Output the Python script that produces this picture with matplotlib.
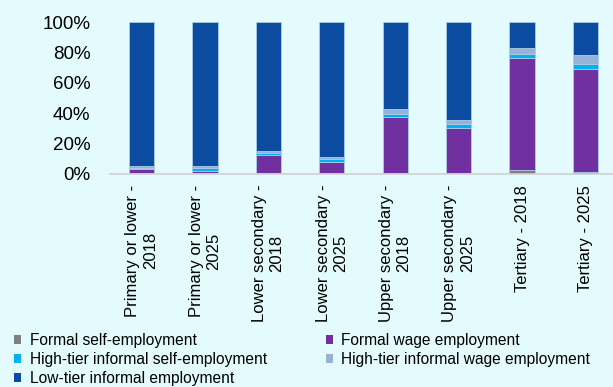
import numpy as np
import matplotlib.pyplot as plt
from matplotlib.patches import Patch
from matplotlib.ticker import PercentFormatter

plt.rcParams['font.family'] = ['Liberation Sans', 'DejaVu Sans']

categories = ['Primary or lower -\n2018', 'Primary or lower -\n2025',
              'Lower secondary -\n2018', 'Lower secondary -\n2025',
              'Upper secondary -\n2018', 'Upper secondary -\n2025',
              'Tertiary - 2018', 'Tertiary - 2025']

# shares of employment, percent
formal_self = [0.3, 0.3, 0.3, 0.3, 0.6, 0.5, 2.4, 1.1]
formal_wage = [3.0, 1.8, 12.0, 7.4, 36.7, 29.8, 74.0, 67.9]
high_self = [0.6, 1.5, 1.3, 2.2, 2.0, 2.4, 2.6, 3.5]
high_wage = [0.9, 1.2, 1.3, 1.3, 3.1, 2.6, 4.2, 5.7]
low_tier = [100 - a - b - c - d for a, b, c, d in
            zip(formal_self, formal_wage, high_self, high_wage)]

series = [
    ('Formal self-employment', formal_self, '#7f7f7f'),
    ('Formal wage employment', formal_wage, '#7030a0'),
    ('High-tier informal self-employment', high_self, '#00b0f0'),
    ('High-tier informal wage employment', high_wage, '#95b3d7'),
    ('Low-tier informal employment', low_tier, '#0b4ca0'),
]

bg = '#e3fbfd'
fig = plt.figure(figsize=(6.13, 3.87), dpi=100, facecolor=bg)
ax = fig.add_axes([0.179, 0.551, 0.828, 0.392], facecolor=bg)

x = np.arange(len(categories))
bottom = np.zeros(len(categories))
for name, vals, col in series:
    vals = np.array(vals) / 100
    ax.bar(x, vals, 0.4, bottom=bottom, color=col, edgecolor='#a9cce8',
           linewidth=0.6, label=name)
    bottom += vals

ax.set_ylim(0, 1)
ax.set_xlim(-0.5, 7.5)
ax.set_yticks(np.arange(0, 1.01, 0.2))
ax.yaxis.set_major_formatter(PercentFormatter(1.0, decimals=0))
ax.set_xticks(x)
ax.set_xticklabels(categories, rotation=90, fontsize=12, ha='center',
                   multialignment='center')
ax.tick_params(axis='y', length=0, labelsize=13.5, pad=14)
ax.tick_params(axis='x', length=0, pad=8)
for s in ['top', 'right', 'left']:
    ax.spines[s].set_visible(False)
ax.spines['bottom'].set_color('#d0d0d0')
ax.spines['bottom'].set_linewidth(1.2)

# legend filled row by row: matplotlib fills columns, so reorder
order = [0, 2, 4, 1, 3]
handles = [Patch(facecolor=series[i][2], label=series[i][0]) for i in order]
fig.legend(handles=handles, loc='upper left',
           bbox_to_anchor=(14 / 613, 1 - 333 / 387),
           ncol=2, frameon=False, fontsize=11.2, handlelength=0.45,
           handleheight=0.45, handletextpad=0.55, columnspacing=3.8,
           labelspacing=0.26, borderpad=0, borderaxespad=0)

fig.savefig('out.png', dpi=100, facecolor=bg)
